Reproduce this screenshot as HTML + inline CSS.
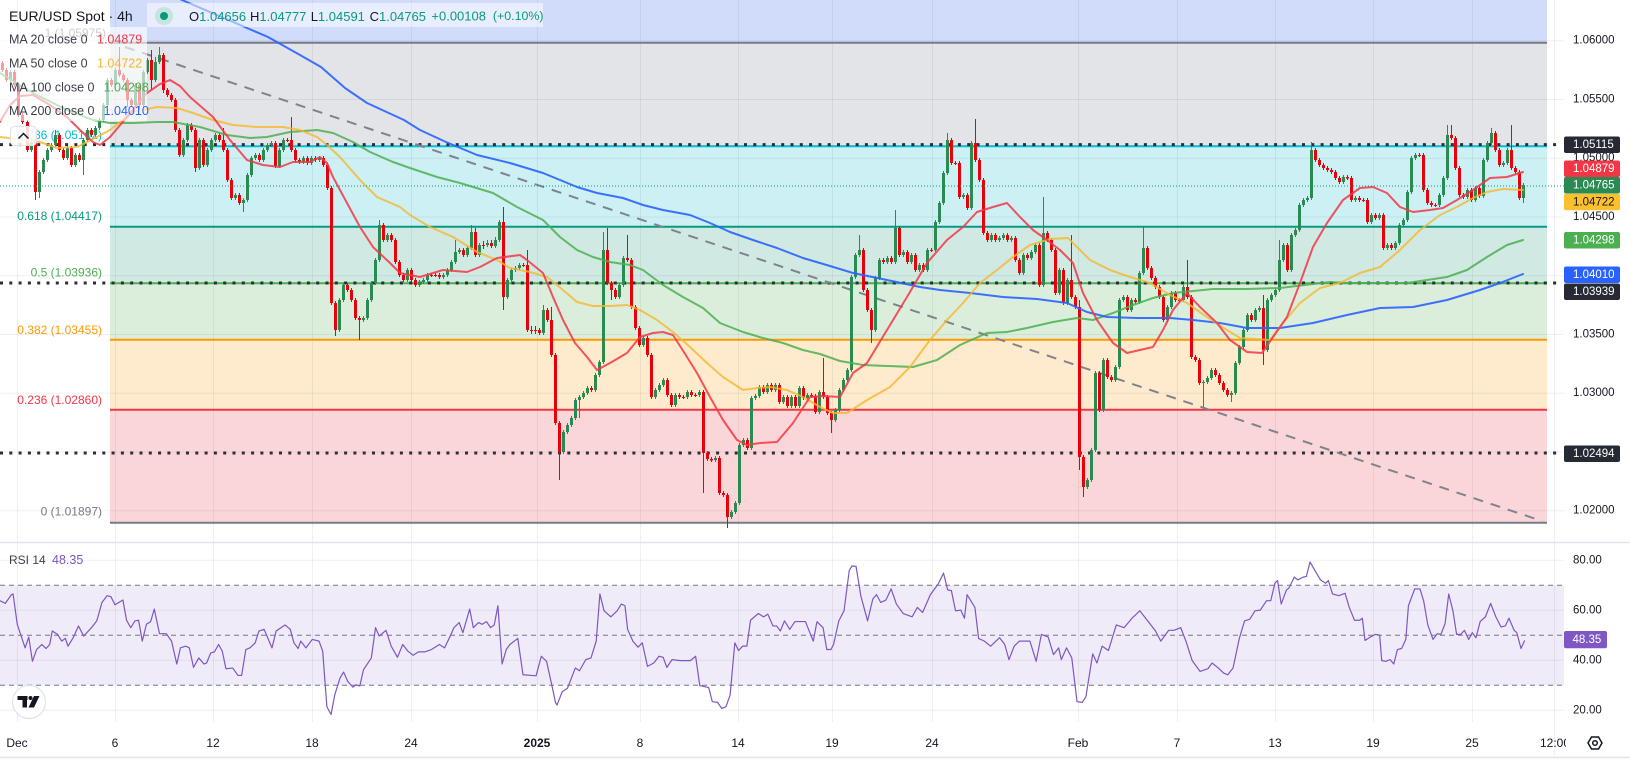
<!DOCTYPE html>
<html><head><meta charset="utf-8">
<style>
html,body{margin:0;padding:0;background:#fff;overflow:hidden;}
svg{display:block;font-family:"Liberation Sans",sans-serif;}
</style></head>
<body>
<svg width="1630" height="760" viewBox="0 0 1630 760" xmlns="http://www.w3.org/2000/svg">
<defs>
<clipPath id="mainclip"><rect x="0" y="0" width="1564" height="542"/></clipPath>
<clipPath id="rsiclip"><rect x="0" y="543" width="1564" height="178"/></clipPath>
<clipPath id="timeclip"><rect x="0" y="722" width="1566" height="36"/></clipPath>
</defs>
<rect width="1630" height="760" fill="#fff"/>

<!-- fib fills -->
<g>
<rect x="110" y="0" width="1437" height="42.7" fill="#d1dcfb"/>
<rect x="110" y="42.7" width="1437" height="103.5" fill="#e3e4e7"/>
<rect x="110" y="146.2" width="1437" height="80.5" fill="#ccf0f3"/>
<rect x="110" y="226.7" width="1437" height="56.5" fill="#d0e9e2"/>
<rect x="110" y="283.2" width="1437" height="56.5" fill="#dbeedc"/>
<rect x="110" y="339.7" width="1437" height="70" fill="#feebcd"/>
<rect x="110" y="409.7" width="1437" height="113.1" fill="#fad6d9"/>
</g>

<!-- RSI band -->
<rect x="0" y="585.3" width="1564" height="100" fill="#efebf8"/>

<!-- grid -->
<g stroke="rgba(42,46,57,0.07)" stroke-width="1">
<line x1="0" y1="40.7" x2="1564" y2="40.7"/>
<line x1="0" y1="99.5" x2="1564" y2="99.5"/>
<line x1="0" y1="158.2" x2="1564" y2="158.2"/>
<line x1="0" y1="217" x2="1564" y2="217"/>
<line x1="0" y1="275.7" x2="1564" y2="275.7"/>
<line x1="0" y1="334.5" x2="1564" y2="334.5"/>
<line x1="0" y1="393.2" x2="1564" y2="393.2"/>
<line x1="0" y1="452" x2="1564" y2="452"/>
<line x1="0" y1="510.7" x2="1564" y2="510.7"/>
<line x1="0" y1="560.3" x2="1564" y2="560.3"/>
<line x1="0" y1="610.3" x2="1564" y2="610.3"/>
<line x1="0" y1="660.3" x2="1564" y2="660.3"/>
<line x1="0" y1="710.3" x2="1564" y2="710.3"/>
<line x1="17.5" y1="0" x2="17.5" y2="722"/>
<line x1="115.5" y1="0" x2="115.5" y2="722"/>
<line x1="213.5" y1="0" x2="213.5" y2="722"/>
<line x1="312.5" y1="0" x2="312.5" y2="722"/>
<line x1="411.5" y1="0" x2="411.5" y2="722"/>
<line x1="537.5" y1="0" x2="537.5" y2="722"/>
<line x1="640.5" y1="0" x2="640.5" y2="722"/>
<line x1="738.5" y1="0" x2="738.5" y2="722"/>
<line x1="832.5" y1="0" x2="832.5" y2="722"/>
<line x1="932.5" y1="0" x2="932.5" y2="722"/>
<line x1="1078.5" y1="0" x2="1078.5" y2="722"/>
<line x1="1177.5" y1="0" x2="1177.5" y2="722"/>
<line x1="1275.5" y1="0" x2="1275.5" y2="722"/>
<line x1="1373.5" y1="0" x2="1373.5" y2="722"/>
<line x1="1472.5" y1="0" x2="1472.5" y2="722"/>
<line x1="1554.5" y1="0" x2="1554.5" y2="757"/>
</g>

<!-- fib lines -->
<g stroke-width="2">
<line x1="110" y1="42.7" x2="1547" y2="42.7" stroke="#787b86"/>
<line x1="110" y1="146.2" x2="1547" y2="146.2" stroke="#00bcd4"/>
<line x1="110" y1="226.7" x2="1547" y2="226.7" stroke="#089981"/>
<line x1="110" y1="283.2" x2="1547" y2="283.2" stroke="#4caf50"/>
<line x1="110" y1="339.7" x2="1547" y2="339.7" stroke="#ff9800"/>
<line x1="110" y1="409.7" x2="1547" y2="409.7" stroke="#f23645"/>
<line x1="110" y1="522.8" x2="1547" y2="522.8" stroke="#787b86"/>
</g>

<!-- fib labels -->
<g font-size="12" text-anchor="end" dominant-baseline="central">
<text x="106" y="33" fill="#787b86">1 (1.05975)</text>
<text x="102" y="135" fill="#00bcd4">0.786 (1.05102)</text>
<text x="102" y="216" fill="#089981">0.618 (1.04417)</text>
<text x="102" y="272.7" fill="#4caf50">0.5 (1.03936)</text>
<text x="102" y="330" fill="#ff9800">0.382 (1.03455)</text>
<text x="102" y="400" fill="#f23645">0.236 (1.02860)</text>
<text x="102" y="511.7" fill="#787b86">0 (1.01897)</text>
</g>

<!-- horizontal dotted levels -->
<g stroke="#2a2e39" stroke-width="3" stroke-dasharray="3 6.3">
<line x1="0" y1="144.6" x2="1562" y2="144.6"/>
<line x1="0" y1="283" x2="1562" y2="283"/>
<line x1="0" y1="453" x2="1562" y2="453"/>
</g>

<!-- trend line -->
<line x1="125" y1="47" x2="1542" y2="521" stroke="#80838d" stroke-width="2" stroke-dasharray="10 8" clip-path="url(#mainclip)"/>

<!-- candles -->
<g clip-path="url(#mainclip)" fill="none" stroke-linecap="butt">
<path stroke="#2b8a52" stroke-width="1" d="M10.5 70V82M31.5 138V152M39.5 170V198M43.5 158V174M47.5 148V162M51.5 143V152M55.5 130V147M67.5 146V160M75.5 153V167M83.5 138V175M87.5 128V142M95.5 126V137M99.5 118V130M103.5 103V122M107.5 78V107M115.5 68V87M135.5 83V107M143.5 70V107M147.5 58V74M155.5 57V82M159.5 47V64M183.5 138V157M187.5 123V142M199.5 138V170M207.5 148V167M211.5 138V152M215.5 133V142M235.5 193V200M243.5 198V212M247.5 173V202M251.5 156V177M255.5 153V160M263.5 148V162M267.5 143V152M271.5 141V147M279.5 148V168M283.5 138V152M303.5 156V164M311.5 156V165M319.5 156V162M339.5 298V332M343.5 283V302M363.5 316V322M367.5 298V320M371.5 281V302M375.5 258V285M379.5 220V262M387.5 233V242M407.5 268V282M419.5 280V287
M423.5 278V284M427.5 273V282M443.5 273V279M447.5 268V277M451.5 260V272M455.5 240V264M459.5 248V254M467.5 246V257M471.5 225V250M479.5 243V257M487.5 240V247M495.5 237V248M499.5 220V242M507.5 278V299M511.5 268V282M515.5 266V272M519.5 263V270M543.5 305V335M563.5 430V454M567.5 423V434M571.5 416V427M575.5 398V420M579.5 395V418M583.5 391V399M587.5 386V395M595.5 373V392M599.5 360V377M603.5 232V364M619.5 283V299M623.5 256V287M643.5 336V347M655.5 388V399M659.5 383V392M663.5 378V387M675.5 393V407M687.5 390V399M699.5 390V397M715.5 456V462M731.5 510V519M735.5 501V514M739.5 443V505M743.5 438V447M751.5 396V450M755.5 394V400M759.5 385V398M767.5 383V394M775.5 383V392M783.5 395V404M791.5 395V408M799.5 386V408M807.5 393V400M819.5 390V414
M835.5 408V422M839.5 388V412M843.5 378V392M847.5 368V382M851.5 275V372M855.5 253V279M859.5 235V257M875.5 276V332M879.5 258V280M887.5 256V264M895.5 210V264M903.5 250V257M911.5 253V264M919.5 263V272M927.5 248V272M935.5 220V252M939.5 201V224M943.5 171V205M947.5 133V175M963.5 193V199M971.5 141V210M991.5 233V242M999.5 236V242M1003.5 233V240M1011.5 236V242M1023.5 253V275M1031.5 250V260M1035.5 243V254M1043.5 197V287M1059.5 268V295M1067.5 278V305M1087.5 478V489M1091.5 448V482M1095.5 371V452M1103.5 358V412M1115.5 365V382M1119.5 298V369M1123.5 295V302M1131.5 298V312M1139.5 271V304M1143.5 227V275M1167.5 305V322M1171.5 291V309M1183.5 285V302M1203.5 380V407M1207.5 376V384M1211.5 368V380M1231.5 391V402M1235.5 361V395M1239.5 345V365M1243.5 328V349M1247.5 313V332M1255.5 308V322M1259.5 306V312M1267.5 298V352M1271.5 293V302M1275.5 288V297M1279.5 240V292M1283.5 243V262M1291.5 233V272M1295.5 228V237M1299.5 203V232M1303.5 198V207M1307.5 196V202M1311.5 142V200M1343.5 175V184M1355.5 196V202M1371.5 213V224M1379.5 213V220M1387.5 243V250M1395.5 241V250M1399.5 223V245M1403.5 218V227M1407.5 190V222M1411.5 156V194M1415.5 153V160M1439.5 193V207M1443.5 176V197M1447.5 125V180M1467.5 188V199M1475.5 186V202M1483.5 158V198M1487.5 141V162M1491.5 128V145M1503.5 161V167M1507.5 148V165M1523.5 183V203"/>
<path stroke="#2b8a52" stroke-width="3" d="M10.5 80V72M31.5 150V140M39.5 192V172M43.5 172V160M47.5 160V150M51.5 150V145M55.5 145V135M67.5 158V148M75.5 165V155M83.5 160V140M87.5 140V130M95.5 135V128M99.5 128V120M103.5 120V105M107.5 105V80M115.5 85V70M135.5 105V85M143.5 105V72M147.5 72V60M155.5 80V62M159.5 62V55M183.5 155V140M187.5 140V125M199.5 168V140M207.5 165V150M211.5 150V140M215.5 140V135M235.5 198V195M243.5 203V200M247.5 200V175M251.5 175V158M255.5 158V155M263.5 160V150M267.5 150V145M271.5 145V143M279.5 166V150M283.5 150V140M303.5 162V158M311.5 163V158M319.5 160V158M339.5 330V300M343.5 300V285M363.5 320V318M367.5 318V300M371.5 300V283M375.5 283V260M379.5 260V225M387.5 240V235M407.5 280V270M419.5 285V282
M423.5 282V280M427.5 280V275M443.5 277V275M447.5 275V270M451.5 270V262M455.5 262V252M459.5 252V250M467.5 255V248M471.5 248V232M479.5 255V245M487.5 245V243M495.5 246V240M499.5 240V222M507.5 297V280M511.5 280V270M515.5 270V268M519.5 268V265M543.5 333V310M563.5 452V432M567.5 432V425M571.5 425V418M575.5 418V400M579.5 400V397M583.5 397V393M587.5 393V388M595.5 390V375M599.5 375V362M603.5 362V250M619.5 297V285M623.5 285V258M643.5 345V338M655.5 397V390M659.5 390V385M663.5 385V380M675.5 405V395M687.5 397V392M699.5 395V392M715.5 460V458M731.5 517V512M735.5 512V503M739.5 503V445M743.5 445V440M751.5 448V398M755.5 398V396M759.5 396V387M767.5 392V385M775.5 390V385M783.5 402V397M791.5 406V397M799.5 406V388M807.5 398V395M819.5 412V392
M835.5 420V410M839.5 410V390M843.5 390V380M847.5 380V370M851.5 370V277M855.5 277V255M859.5 255V250M875.5 330V278M879.5 278V260M887.5 262V258M895.5 262V228M903.5 255V252M911.5 262V255M919.5 270V265M927.5 270V250M935.5 250V222M939.5 222V203M943.5 203V173M947.5 173V140M963.5 197V195M971.5 208V143M991.5 240V235M999.5 240V238M1003.5 238V235M1011.5 240V238M1023.5 273V255M1031.5 258V252M1035.5 252V245M1043.5 285V233M1059.5 293V270M1067.5 303V280M1087.5 487V480M1091.5 480V450M1095.5 450V373M1103.5 410V360M1115.5 380V367M1119.5 367V300M1123.5 300V297M1131.5 310V300M1139.5 302V273M1143.5 273V248M1167.5 320V307M1171.5 307V293M1183.5 300V287M1203.5 383V382M1207.5 382V378M1211.5 378V370M1231.5 395V393M1235.5 393V363M1239.5 363V347M1243.5 347V330M1247.5 330V315M1255.5 320V310M1259.5 310V308M1267.5 350V300M1271.5 300V295M1275.5 295V290M1279.5 290V260M1283.5 260V245M1291.5 270V235M1295.5 235V230M1299.5 230V205M1303.5 205V200M1307.5 200V198M1311.5 198V150M1343.5 182V177M1355.5 200V198M1371.5 222V215M1379.5 218V215M1387.5 248V245M1395.5 248V243M1399.5 243V225M1403.5 225V220M1407.5 220V192M1411.5 192V158M1415.5 158V155M1439.5 205V195M1443.5 195V178M1447.5 178V135M1467.5 197V190M1475.5 200V188M1483.5 196V160M1487.5 160V143M1491.5 143V133M1503.5 165V163M1507.5 163V150M1523.5 198V185"/>
<path stroke="#e8000b" stroke-width="1" d="M2.5 61V72M6.5 68V82M14.5 70V87M18.5 83V117M22.5 113V124M27.5 120V152M35.5 138V200M59.5 133V152M63.5 148V160M71.5 146V167M79.5 153V162M91.5 128V137M111.5 78V87M119.5 47V77M123.5 73V82M127.5 78V107M131.5 98V107M139.5 83V110M151.5 50V90M163.5 53V93M167.5 88V97M171.5 93V102M175.5 98V132M179.5 128V157M191.5 123V132M195.5 128V172M203.5 138V167M219.5 133V142M223.5 128V152M227.5 148V182M231.5 178V200M239.5 193V205M259.5 153V162M275.5 141V168M287.5 138V142M291.5 117V152M295.5 148V162M299.5 158V164M307.5 156V165M315.5 156V162M323.5 156V167M327.5 163V190M331.5 186V305M335.5 301V336M347.5 283V292M351.5 288V302M355.5 298V320M359.5 316V340M383.5 223V242M391.5 233V242M395.5 238V264M399.5 260V277M403.5 273V282M411.5 268V282M415.5 278V287
M439.5 273V279M463.5 248V257M475.5 228V257M491.5 240V248M503.5 207V310M527.5 250V332M539.5 328V335M547.5 308V322M551.5 307V357M555.5 353V425M559.5 421V480M591.5 386V392M607.5 228V285M611.5 281V300M615.5 288V299M627.5 235V262M631.5 258V309M635.5 305V330M639.5 326V347M647.5 336V357M651.5 353V399M667.5 378V397M671.5 393V407M679.5 393V399M691.5 390V397M703.5 390V493M707.5 451V461M711.5 457V462M719.5 456V495M723.5 491V497M727.5 493V528M747.5 438V450M763.5 385V394M771.5 383V392M779.5 383V404M787.5 395V408M795.5 395V408M803.5 386V400M811.5 393V398M815.5 394V414M823.5 358V399M827.5 395V415M831.5 411V433M431.5 273V277M435.5 273V277M483.5 241V249M523.5 263V267M531.5 326V334M535.5 326V334M683.5 395V399M695.5 393V397
M863.5 248V292M867.5 288V312M871.5 308V343M883.5 258V264M891.5 256V264M899.5 226V257M907.5 250V264M915.5 253V272M923.5 263V272M951.5 138V165M959.5 161V199M967.5 193V210M975.5 119V162M979.5 158V182M983.5 178V235M987.5 231V242M995.5 233V242M1007.5 233V242M1015.5 236V262M1019.5 258V275M1027.5 253V260M1039.5 243V287M1047.5 231V242M1051.5 238V252M1055.5 248V295M1063.5 268V305M1071.5 235V299M1075.5 295V309M1079.5 300V470M1083.5 455V497M1099.5 371V412M1107.5 358V379M1111.5 375V382M1127.5 295V312M1135.5 298V304M1147.5 246V270M1151.5 266V280M1155.5 276V289M1159.5 285V299M1163.5 295V322M1175.5 291V302M1187.5 260V299M1191.5 295V359M1195.5 355V362M1199.5 358V385M1215.5 368V377M1219.5 373V385M1223.5 381V392M1227.5 388V397M1251.5 313V322M1263.5 295V365M1287.5 243V272M1315.5 148V162M1319.5 158V167M1323.5 163V170M1327.5 166V172M1331.5 168V174M1335.5 170V180M1339.5 176V184M1347.5 175V180M1351.5 176V202M1359.5 196V202M1367.5 198V224M1375.5 213V220M1383.5 213V250M1391.5 243V250M1423.5 153V192M1427.5 188V205M1431.5 201V207M1451.5 125V140M1455.5 136V170M1459.5 166V197M1463.5 193V199M1471.5 188V202M1479.5 186V198M1495.5 131V152M1499.5 148V167M1511.5 125V170M1515.5 166V174M1519.5 170V200M931.5 248V252M955.5 161V165M1179.5 298V302M1363.5 198V202M1419.5 153V157M1435.5 203V207"/>
<path stroke="#e8000b" stroke-width="3" d="M2.5 63V70M6.5 70V80M14.5 72V85M18.5 85V115M22.5 115V122M27.5 122V150M35.5 140V192M59.5 135V150M63.5 150V158M71.5 148V165M79.5 155V160M91.5 130V135M111.5 80V85M119.5 70V75M123.5 75V80M127.5 80V100M131.5 100V105M139.5 85V105M151.5 60V80M163.5 55V90M167.5 90V95M171.5 95V100M175.5 100V130M179.5 130V155M191.5 125V130M195.5 130V168M203.5 140V165M219.5 135V140M223.5 140V150M227.5 150V180M231.5 180V198M239.5 195V203M259.5 155V160M275.5 143V166M287.5 140V141M291.5 140V150M295.5 150V160M299.5 160V162M307.5 158V163M315.5 158V160M323.5 158V165M327.5 165V188M331.5 188V303M335.5 303V330M347.5 285V290M351.5 290V300M355.5 300V318M359.5 318V320M383.5 225V240M391.5 235V240M395.5 240V262M399.5 262V275M403.5 275V280M411.5 270V280M415.5 280V285
M439.5 275V277M463.5 250V255M475.5 232V255M491.5 243V246M503.5 222V297M527.5 265V330M539.5 330V333M547.5 310V320M551.5 320V355M555.5 355V423M559.5 423V452M591.5 388V390M607.5 250V283M611.5 283V290M615.5 290V297M627.5 258V260M631.5 260V307M635.5 307V328M639.5 328V345M647.5 338V355M651.5 355V397M667.5 380V395M671.5 395V405M679.5 395V397M691.5 392V395M703.5 392V453M707.5 453V459M711.5 459V460.5M719.5 458V493M723.5 493V495M727.5 495V517M747.5 440V448M763.5 387V392M771.5 385V390M779.5 385V402M787.5 397V406M795.5 397V406M803.5 388V398M811.5 395V396.5M815.5 396V412M823.5 392V397M827.5 397V413M831.5 413V420M431.5 275V276M435.5 275V276M483.5 245V246M523.5 265V266M531.5 330V331M535.5 330V331M683.5 397V398M695.5 395V396
M863.5 250V290M867.5 290V310M871.5 310V330M883.5 260V262M891.5 258V262M899.5 228V255M907.5 252V262M915.5 255V270M923.5 265V270M951.5 140V163M959.5 163V197M967.5 195V208M975.5 143V160M979.5 160V180M983.5 180V233M987.5 233V240M995.5 235V240M1007.5 235V240M1015.5 238V260M1019.5 260V273M1027.5 255V258M1039.5 245V285M1047.5 233V240M1051.5 240V250M1055.5 250V293M1063.5 270V303M1071.5 280V297M1075.5 297V307M1079.5 307V457M1083.5 457V487M1099.5 373V410M1107.5 360V377M1111.5 377V380M1127.5 297V310M1135.5 300V302M1147.5 248V268M1151.5 268V278M1155.5 278V287M1159.5 287V297M1163.5 297V320M1175.5 293V300M1187.5 287V297M1191.5 297V357M1195.5 357V360M1199.5 360V383M1215.5 370V375M1219.5 375V383M1223.5 383V390M1227.5 390V395M1251.5 315V320M1263.5 308V350M1287.5 245V270M1315.5 150V160M1319.5 160V165M1323.5 165V168M1327.5 168V170M1331.5 170V172M1335.5 172V178M1339.5 178V182M1347.5 177V178.5M1351.5 178V200M1359.5 198V200M1367.5 200V222M1375.5 215V218M1383.5 215V248M1391.5 245V248M1423.5 155V190M1427.5 190V203M1431.5 203V205M1451.5 135V138M1455.5 138V168M1459.5 168V195M1463.5 195V197M1471.5 190V200M1479.5 188V196M1495.5 133V150M1499.5 150V165M1511.5 150V168M1515.5 168V172M1519.5 172V198M931.5 250V251M955.5 163V164M1179.5 300V301M1363.5 200V201M1419.5 155V156M1435.5 205V206"/>
</g>

<!-- moving averages -->
<g fill="none" stroke-width="2" stroke-linejoin="round" stroke-linecap="round" clip-path="url(#mainclip)">
<polyline stroke="#4caf50" stroke-opacity="0.85" points="0,73 33,93 67,110 93,120 110,123 133,123 157,122 173,122 200,127 227,135 250,138 267,137 290,132 317,130 333,133 353,142 370,152 393,162 410,168 437,177 460,183 493,193 517,207 543,220 560,237 577,250 593,257 610,262 630,265 643,270 663,285 683,297 703,308 720,323 743,332 763,338 783,343 803,350 820,354 840,361 863,365 913,367 937,360 960,345 987,333 1007,332 1027,328 1053,322 1077,318 1093,320 1113,313 1133,305 1153,298 1173,293 1193,291 1213,289 1247,289 1280,288 1313,284 1330,282 1347,283 1380,283 1407,283 1427,280 1447,277 1467,270 1487,257 1507,245 1523,240"/>
<polyline stroke="#2962ff" stroke-opacity="0.9" points="160,-10 182,0 247,28 268,37 300,55 321,67 345,88 367,103 404,120 420,130 446,142 477,155 510,163 543,173 577,187 597,193 623,198 643,205 663,210 690,215 710,223 730,232 753,240 777,248 803,258 830,266 853,273 887,280 920,287 940,290 970,293 1003,297 1037,299 1067,303 1087,312 1107,317 1137,318 1170,318 1193,320 1220,323 1247,328 1280,328 1313,323 1347,315 1380,308 1413,307 1447,300 1480,290 1500,283 1523,274"/>
<polyline stroke="#f5b62e" stroke-opacity="0.8" points="0,137 40,142 57,148 77,147 97,137 110,130 133,112 157,107 177,108 193,113 213,120 233,125 257,127 283,127 300,130 317,137 327,145 340,157 360,180 377,197 400,207 410,215 430,227 453,237 477,252 497,260 510,268 530,272 547,277 563,290 577,302 593,306 610,306 627,305 640,310 657,320 673,332 690,347 707,363 723,377 743,390 757,388 770,387 787,390 803,397 820,407 833,413 847,413 867,400 890,387 910,367 930,340 947,320 963,303 980,283 997,270 1013,257 1030,245 1050,239 1068,238 1077,247 1090,260 1110,270 1130,277 1150,283 1170,295 1187,303 1207,317 1227,330 1240,338 1270,340 1283,323 1300,303 1320,288 1340,283 1360,273 1380,267 1400,250 1420,230 1440,215 1457,207 1473,198 1487,192 1503,189 1523,190"/>
<polyline stroke="#f23645" stroke-opacity="0.85" points="0,122 10,105 20,96 33,95 50,105 67,117 80,130 93,142 100,145 110,137 127,117 147,93 160,84 170,80 180,86 190,97 213,117 230,140 247,160 263,165 280,167 293,162 310,162 320,157 327,163 333,177 347,203 360,227 373,247 390,263 400,273 420,277 443,270 467,272 480,267 497,258 520,255 527,260 543,273 553,297 563,320 575,343 587,357 597,370 610,363 627,353 640,337 653,333 663,332 673,335 687,357 697,373 710,397 723,420 737,440 747,445 760,443 777,442 793,423 810,397 823,396 840,397 853,373 867,363 887,330 907,297 927,263 947,240 963,227 977,212 993,207 1007,203 1020,217 1033,230 1047,240 1060,250 1073,263 1083,293 1097,320 1113,343 1127,353 1140,350 1153,347 1163,330 1173,310 1187,293 1200,307 1217,323 1230,340 1247,352 1262,353 1273,337 1287,317 1300,283 1313,247 1327,223 1343,200 1360,188 1373,187 1387,193 1400,207 1413,212 1430,210 1443,208 1457,200 1473,190 1490,178 1507,177 1523,172"/>
</g>

<!-- current price line -->
<line x1="0" y1="186" x2="1564" y2="186" stroke="#089981" stroke-width="1" stroke-dasharray="1 2"/>

<!-- legend overlays -->
<rect x="0" y="27" width="147" height="94" fill="#fff" fill-opacity="0.62"/>
<rect x="147" y="3" width="396" height="24" fill="#fff" fill-opacity="0.5"/>
<text x="9" y="16" font-size="14" fill="#131722" dominant-baseline="central">EUR/USD Spot · 4h</text>
<circle cx="164" cy="16" r="9" fill="#c6e6dd"/>
<circle cx="164" cy="16" r="4" fill="#089981"/>
<g font-size="13" dominant-baseline="central">
<text y="16"><tspan x="189" fill="#131722">O</tspan><tspan fill="#089981">1.04656</tspan></text>
<text y="16"><tspan x="250" fill="#131722">H</tspan><tspan fill="#089981">1.04777</tspan></text>
<text y="16"><tspan x="310.7" fill="#131722">L</tspan><tspan fill="#089981">1.04591</tspan></text>
<text y="16"><tspan x="369.6" fill="#131722">C</tspan><tspan fill="#089981">1.04765</tspan></text>
<text y="16" x="431.4" fill="#089981">+0.00108</text>
<text y="16" x="492.9" fill="#089981" font-size="12.4">(+0.10%)</text>
</g>
<g font-size="12.5" dominant-baseline="central">
<text x="9" y="39.5" fill="#3b3f4a">MA 20 close 0</text><text x="97" y="39.5" fill="#f23645">1.04879</text>
<text x="9" y="63.3" fill="#3b3f4a">MA 50 close 0</text><text x="97" y="63.3" fill="#f5b731">1.04722</text>
<text x="9" y="87.3" fill="#3b3f4a">MA 100 close 0</text><text x="103.6" y="87.3" fill="#4caf50">1.04298</text>
<text x="9" y="111" fill="#3b3f4a">MA 200 close 0</text><text x="103.6" y="111" fill="#2962ff">1.04010</text>
</g>
<rect x="10.5" y="126.5" width="26" height="19" rx="4" fill="#fff" fill-opacity="0.85" stroke="#e0e3eb"/>
<path d="M18.5,138.5 L23.5,133.5 L28.5,138.5" fill="none" stroke="#131722" stroke-width="1.5"/>

<!-- pane separators -->
<line x1="0" y1="542.5" x2="1630" y2="542.5" stroke="#e0e3eb" stroke-width="1.5"/>
<line x1="0" y1="757.5" x2="1630" y2="757.5" stroke="#e0e3eb" stroke-width="1.5"/>

<!-- RSI -->
<g stroke="#787b86" stroke-width="1" stroke-dasharray="5 4">
<line x1="0" y1="585.3" x2="1564" y2="585.3"/>
<line x1="0" y1="635.3" x2="1564" y2="635.3"/>
<line x1="0" y1="685.3" x2="1564" y2="685.3"/>
</g>
<g clip-path="url(#rsiclip)" fill="none" stroke="#7e57c2" stroke-width="1.2" stroke-linejoin="round">
<polyline vector-effect="non-scaling-stroke" transform="matrix(0.52301,0,0,0.33670,0,530)" points="0,210 10,218 22,192 25,190 33,280 48,350 55,318 62,390 70,355 80,340 88,352 95,340 100,300 110,310 118,330 125,322 130,345 140,320 150,285 160,315 175,290 185,270 195,215 205,195 212,198 220,222 235,208 242,268 250,290 258,270 265,268 272,330 280,280 288,272 295,235 305,308 318,308 328,330 338,398 345,350 355,345 362,350 370,408 380,380 390,398 395,395 403,365 410,362 418,340 425,360 432,412 445,410 455,432 462,432 470,355 478,350 488,335 495,300 505,295 520,350 528,300 545,282 555,295 562,335 570,352 575,330 585,350 597,325 610,330 617,360 625,525 633,548 640,490 650,440 657,422 665,450 675,467 680,460 688,463 695,415 710,380 718,290 725,315 738,298 748,345 760,378 770,340 780,360 790,372 800,362 812,362 825,355 840,340 850,350 860,318 868,290 878,275 885,305 898,235 905,290 915,275 922,280 930,272 938,290 945,282 952,225 960,398 968,355 975,340 990,322 1000,430 1025,433 1035,375 1045,390 1055,460 1062,512 1065,520 1075,480 1085,470 1100,410 1108,418 1120,385 1130,380 1140,330 1147,190 1155,240 1168,258 1180,240 1188,220 1195,225 1200,295 1210,330 1220,348 1228,335 1238,405 1250,395 1260,375 1268,378 1275,408 1285,385 1300,388 1320,388 1330,375 1338,462 1355,468 1362,510 1372,512 1380,530 1388,525 1396,490 1405,335 1412,358 1420,345 1428,345 1435,268 1450,248 1460,258 1468,250 1478,285 1485,285 1492,300 1500,270 1510,295 1520,272 1540,272 1555,330 1562,272"/>
<polyline vector-effect="non-scaling-stroke" transform="matrix(0.52356,0,0,0.33670,810,530)" points="13,272 15,275 25,290 32,355 40,355 45,340 55,270 65,240 75,120 80,107 88,108 97,195 110,270 120,205 127,192 135,215 145,208 155,175 165,220 178,248 195,258 205,230 215,245 230,192 245,160 255,128 263,178 270,180 278,240 288,238 295,262 300,192 315,230 322,322 333,330 345,345 362,320 372,340 380,385 390,345 400,330 420,330 432,390 442,310 455,318 465,370 475,350 480,385 490,350 500,380 510,510 520,512 527,495 540,368 548,395 558,345 570,358 585,282 600,290 615,262 630,240 645,270 660,300 670,330 685,298 695,298 708,290 718,330 730,388 745,420 760,412 768,395 780,410 790,425 798,430 808,410 820,322 830,270 840,265 850,240 860,238 872,210 880,210 888,158 893,150 900,220 910,178 915,172 925,140 932,148 942,140 948,138 955,95 965,122 975,148 985,158 990,150 998,190 1010,195 1022,188 1030,230 1040,268 1050,268 1055,262 1060,328 1070,318 1080,310 1088,312 1092,388 1100,390 1108,385 1115,398 1122,355 1130,352 1138,325 1143,225 1155,175 1165,175 1172,210 1180,282 1190,325 1198,308 1205,310 1213,278 1220,190 1228,240 1235,310 1243,310 1250,298 1258,325 1265,305 1272,320 1280,272 1290,258 1300,218 1310,258 1320,288 1328,285 1335,262 1345,298 1350,305 1358,352 1365,328"/>
</g>
<text x="9" y="560" font-size="12" fill="#3b3f4a" dominant-baseline="central">RSI 14</text>
<text x="52" y="560" font-size="12.5" fill="#7e57c2" dominant-baseline="central">48.35</text>

<!-- TV logo -->
<circle cx="29" cy="702" r="16.5" fill="#fff" stroke="#e0e3eb" stroke-width="1.2"/>
<g fill="#131722">
<rect x="17.5" y="696" width="10" height="4"/>
<rect x="22.5" y="696" width="4.5" height="11.5"/>
<circle cx="30.5" cy="698" r="2"/>
<polygon points="34,696 39.5,696 34,707.5 28.5,707.5"/>
</g>

<!-- price axis labels -->
<g font-size="11.5" fill="#131722" dominant-baseline="central">
<text x="1573" y="40.7">1.06000</text>
<text x="1573" y="99.5">1.05500</text>
<text x="1573" y="158.2">1.05000</text>
<text x="1573" y="217">1.04500</text>
<text x="1573" y="275.7">1.04000</text>
<text x="1573" y="334.5">1.03500</text>
<text x="1573" y="393.2">1.03000</text>
<text x="1573" y="452">1.02500</text>
<text x="1573" y="510.7">1.02000</text>
<text x="1573" y="560.3">80.00</text>
<text x="1573" y="610.3">60.00</text>
<text x="1573" y="660.3">40.00</text>
<text x="1573" y="710.3">20.00</text>
</g>
<g font-size="11.5" dominant-baseline="central">
<rect x="1564" y="136.5" width="56" height="16.5" rx="2" fill="#262a35"/><text x="1573" y="145" fill="#fff">1.05115</text>
<rect x="1564" y="160.5" width="56" height="16.5" rx="2" fill="#f23645"/><text x="1573" y="169" fill="#fff">1.04879</text>
<rect x="1564" y="193.8" width="56" height="16.5" rx="2" fill="#fbc02d"/><text x="1573" y="202.3" fill="#131722">1.04722</text>
<rect x="1564" y="177" width="56" height="16.5" rx="2" fill="#2b8a52"/><text x="1573" y="185.5" fill="#fff">1.04765</text>
<rect x="1564" y="232" width="56" height="16.5" rx="2" fill="#4caf50"/><text x="1573" y="240.5" fill="#fff">1.04298</text>
<rect x="1564" y="266.5" width="56" height="16.5" rx="2" fill="#2962ff"/><text x="1573" y="275" fill="#fff">1.04010</text>
<rect x="1564" y="283.5" width="56" height="16.5" rx="2" fill="#262a35"/><text x="1573" y="292" fill="#fff">1.03939</text>
<rect x="1564" y="445.5" width="56" height="16.5" rx="2" fill="#262a35"/><text x="1573" y="454" fill="#fff">1.02494</text>
<rect x="1564" y="631" width="43" height="17.3" rx="2" fill="#7e57c2"/><text x="1572.5" y="640" fill="#fff">48.35</text>
</g>

<!-- time axis -->
<g font-size="12" fill="#131722" text-anchor="middle" dominant-baseline="central" clip-path="url(#timeclip)">
<text x="17" y="743">Dec</text>
<text x="115" y="743">6</text>
<text x="213" y="743">12</text>
<text x="312" y="743">18</text>
<text x="411" y="743">24</text>
<text x="537" y="743" font-weight="bold">2025</text>
<text x="640" y="743">8</text>
<text x="738" y="743">14</text>
<text x="832" y="743">19</text>
<text x="932" y="743">24</text>
<text x="1078" y="743">Feb</text>
<text x="1177" y="743">7</text>
<text x="1275" y="743">13</text>
<text x="1373" y="743">19</text>
<text x="1472" y="743">25</text>
<text x="1555" y="743">12:00</text>
</g>

<!-- settings icon -->
<polygon points="1588,743 1591.5,737 1598.5,737 1602,743 1598.5,749 1591.5,749" fill="none" stroke="#131722" stroke-width="1.5"/>
<circle cx="1595" cy="743" r="2.3" fill="none" stroke="#131722" stroke-width="1.5"/>
</svg>
</body></html>
